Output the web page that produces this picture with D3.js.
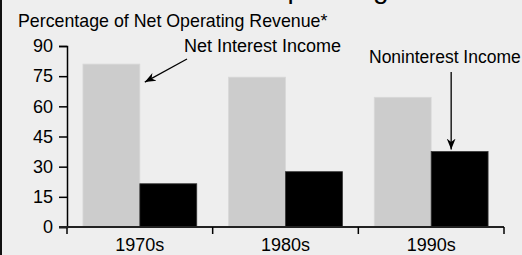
<!DOCTYPE html>
<html>
<head>
<meta charset="utf-8">
<script src="https://cdn.jsdelivr.net/npm/d3@7"></script>
<style>
  html, body { margin: 0; padding: 0; background: #eeeeee; overflow: hidden; }
  svg { display: block; font-family: "Liberation Sans", Arial, sans-serif; }
</style>
</head>
<body>
<svg id="chart" width="522" height="255"></svg>
<script>
const categories = ["1970s", "1980s", "1990s"];
const netInterest = [81, 74.5, 64.5];
const noninterest = [21.5, 27.5, 37.5];
const yTicks = [0, 15, 30, 45, 60, 75, 90];
const seriesNames = ["Net Interest Income", "Noninterest Income"];
const titleText = "Sources of Operating Revenue";
const yLabel = "Percentage of Net Operating Revenue*";

const svg = d3.select("#chart");
const W = 522, H = 255;
svg.append("rect").attr("width", W).attr("height", H).attr("fill", "#eeeeee");
svg.append("rect").attr("x", 0).attr("y", 0).attr("width", 2).attr("height", H).attr("fill", "#111");

const x0 = 67, x1 = 504, yTop = 46, yBot = 227;
const x = d3.scaleBand().domain(categories).range([x0, x1]).paddingInner(0).paddingOuter(0);
const inner = d3.scaleBand().domain([0, 1]).range([0, x.bandwidth()]).paddingInner(0).paddingOuter(0.28);
const y = d3.scaleLinear().domain([0, 90]).range([yBot, yTop]);

// title (mostly clipped at the top edge, as in the reference)
svg.append("text").attr("x", 124).attr("y", -2).attr("font-size", 28).attr("fill", "#000").text(titleText);

svg.append("text").attr("x", 18).attr("y", 27).attr("font-size", 17.8).attr("fill", "#000").text(yLabel);

const data = categories.map((c, i) => ({ c, v: [netInterest[i], noninterest[i]] }));
const colors = ["#cccccc", "#000000"];
const g = svg.append("g");
data.forEach(d => {
  d.v.forEach((v, k) => {
    g.append("rect")
      .attr("x", x(d.c) + inner(k))
      .attr("y", y(v))
      .attr("width", inner.bandwidth())
      .attr("height", y(0) - y(v))
      .attr("fill", colors[k])
      .attr("stroke", k === 0 ? "#d8d8d8" : "#333")
      .attr("stroke-width", 0.8);
  });
});

// Y axis
const yAxis = d3.axisLeft(y).tickValues(yTicks).tickSize(8).tickSizeOuter(8).tickPadding(6);
const ya = svg.append("g").attr("transform", `translate(${x0},0)`).call(yAxis);
ya.selectAll("path, line").attr("stroke", "#000").attr("stroke-width", 1.5);
ya.selectAll("text").attr("font-size", 18).attr("fill", "#000").attr("font-family", "Liberation Sans, Arial, sans-serif");
svg.append("line").attr("x1", x0).attr("x2", x0).attr("y1", yBot).attr("y2", yBot + 7).attr("stroke", "#000").attr("stroke-width", 1.5);

// X axis
svg.append("line").attr("x1", x0 - 8).attr("x2", x1).attr("y1", yBot).attr("y2", yBot).attr("stroke", "#222").attr("stroke-width", 2);
categories.forEach(c => {
  svg.append("line").attr("x1", x(c) + x.bandwidth()).attr("x2", x(c) + x.bandwidth())
    .attr("y1", yBot).attr("y2", yBot + 7).attr("stroke", "#000").attr("stroke-width", 1.5);
  svg.append("text").attr("x", x(c) + x.bandwidth() / 2).attr("y", 251)
    .attr("text-anchor", "middle").attr("font-size", 18).attr("fill", "#000").text(c);
});

// Annotations
const defs = svg.append("defs");
defs.append("marker").attr("id", "ah").attr("viewBox", "0 0 10 10").attr("refX", 10).attr("refY", 5)
  .attr("markerWidth", 11).attr("markerHeight", 11).attr("markerUnits", "userSpaceOnUse").attr("orient", "auto")
  .append("path").attr("d", "M0,1 L10,5 L0,9 L3,5 Z").attr("fill", "#000");

svg.append("text").attr("x", 184).attr("y", 52).attr("font-size", 18).attr("fill", "#000").text(seriesNames[0]);
const b0 = x(categories[0]) + inner(0) + inner.bandwidth();
svg.append("line").attr("x1", 187).attr("y1", 59).attr("x2", b0 + 5).attr("y2", y(netInterest[0]) + 18)
  .attr("stroke", "#000").attr("stroke-width", 1.3).attr("marker-end", "url(#ah)");

svg.append("text").attr("x", 369).attr("y", 63).attr("font-size", 17.5).attr("fill", "#000").text(seriesNames[1]);
const c2 = x(categories[2]) + inner(1) + 20;
svg.append("line").attr("x1", c2).attr("y1", 72).attr("x2", c2).attr("y2", y(noninterest[2]) - 2)
  .attr("stroke", "#000").attr("stroke-width", 1.3).attr("marker-end", "url(#ah)");
</script>
</body>
</html>
